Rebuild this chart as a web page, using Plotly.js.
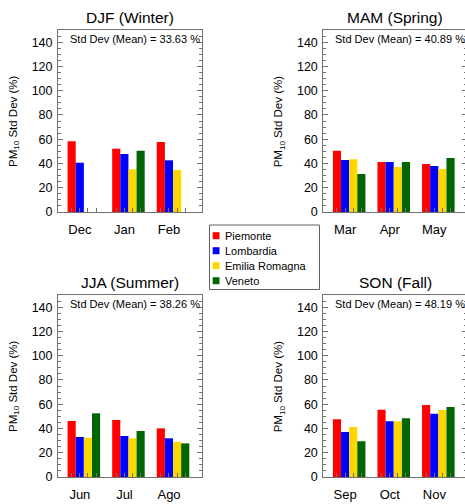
<!DOCTYPE html>
<html>
<head>
<meta charset="utf-8">
<script src="https://cdn.plot.ly/plotly-3.0.1.min.js"></script>
<style>
html, body { margin: 0; padding: 0; overflow: hidden; background: #fff; }
#chart { width: 468px; height: 504px; }
</style>
</head>
<body>
<div id="chart"></div>
<script>
// ---- data ----
const months = ['Dec', 'Jan', 'Feb', 'Mar', 'Apr', 'May', 'Jun', 'Jul', 'Ago', 'Sep', 'Oct', 'Nov'];
const seasons = ['DJF (Winter)', 'MAM (Spring)', 'JJA (Summer)', 'SON (Fall)'];
const stdDevMean = [33.63, 40.89, 38.26, 48.19];
const regions = ['Piemonte', 'Lombardia', 'Emilia Romagna', 'Veneto'];
const regionColors = ['#ff0000', '#0000ff', '#ffd700', '#006400'];
const piemonte = [58.3, 52.2, 57.7, 50.5, 41.2, 39.6, 46.2, 47.0, 40.1, 47.5, 55.5, 59.4];
const lombardia = [40.6, 47.8, 42.6, 42.9, 41.2, 37.9, 33.0, 33.8, 31.9, 37.1, 45.9, 52.2];
const emiliaRomagna = [null, 35.2, 34.6, 43.4, 37.1, 35.4, 32.4, 31.9, 28.9, 41.2, 45.9, 55.2];
const veneto = [null, 50.5, null, 31.3, 41.2, 44.5, 52.5, 37.9, 27.7, 29.4, 48.4, 57.7];
const seriesValues = [piemonte, lombardia, emiliaRomagna, veneto];

// ---- layout geometry ----
const W = 468, H = 504;
const colDomains = [[58 / W, 202 / W], [323.3 / W, 467.3 / W]];
const rowDomains = [[1 - 212 / H, 1 - 30 / H], [1 - 477 / H, 1 - 295 / H]];
const bargap = 0.27;
const barW = (1 - bargap) / regions.length;
const pos = [0, 1, 2];
const minorVals = [];
pos.forEach(c => { for (let k = 0; k < regions.length; k++) minorVals.push(c + (k - (regions.length - 1) / 2) * barW); });

const FONT = 'Liberation Sans, Arial, Helvetica, sans-serif';
const frame = '#707070';

const traces = [];
const layout = {
  width: W, height: H,
  margin: {l: 0, r: 0, t: 0, b: 0},
  paper_bgcolor: '#fff', plot_bgcolor: '#fff',
  barmode: 'group', bargap: bargap, bargroupgap: 0,
  showlegend: false,
  font: {family: FONT, color: '#000'},
  annotations: [], shapes: []
};

seasons.forEach((season, s) => {
  const idx = s === 0 ? '' : String(s + 1);
  const xa = 'x' + idx, ya = 'y' + idx;
  const col = s % 2, row = Math.floor(s / 2);
  const mLabels = months.slice(s * 3, s * 3 + 3);
  regions.forEach((r, k) => {
    traces.push({
      type: 'bar', name: r, x: pos, y: seriesValues[k].slice(s * 3, s * 3 + 3),
      xaxis: xa, yaxis: ya,
      marker: {color: regionColors[k], line: {width: 0}},
      hoverinfo: 'y+name'
    });
  });
  layout['xaxis' + idx] = {
    domain: colDomains[col], anchor: ya, range: [-0.58, 2.65],
    tickmode: 'array', tickvals: pos, ticktext: mLabels, ticks: '', 
    tickfont: {size: 13, family: FONT, color: '#000'},
    ticklabelshift: -4, ticklabelstandoff: 5,
    minor: {tickmode: 'array', tickvals: minorVals, ticks: 'inside', ticklen: 4, tickcolor: frame, tickwidth: 1},
    showline: true, linecolor: frame, linewidth: 1, mirror: true,
    showgrid: false, zeroline: false, fixedrange: true
  };
  layout['yaxis' + idx] = {
    domain: rowDomains[row], anchor: xa, range: [0, 150],
    tickmode: 'linear', tick0: 0, dtick: 20, ticks: 'inside', ticklen: 5, tickcolor: frame, tickwidth: 1,
    minor: {dtick: 5, ticks: 'inside', ticklen: 3, tickcolor: frame, showgrid: false},
    tickfont: {size: 12.5, family: FONT, color: '#000'},
    ticklabelstandoff: 2,
    showline: true, linecolor: frame, linewidth: 1, mirror: 'ticks',
    showgrid: false, zeroline: false, fixedrange: true
  };
  // panel title
  layout.annotations.push({
    xref: xa + ' domain', yref: ya + ' domain', x: 0.5, y: 1, yshift: 12.5,
    xanchor: 'center', yanchor: 'middle', showarrow: false,
    text: season, font: {size: 15.5, family: FONT, color: '#000'}
  });
  // std dev text
  layout.annotations.push({
    xref: xa + ' domain', yref: ya + ' domain', x: 0.068, y: 1, yshift: -8.7,
    xanchor: 'left', yanchor: 'middle', showarrow: false,
    text: 'Std Dev (Mean) = ' + stdDevMean[s].toFixed(2) + ' %', font: {size: 11, family: FONT, color: '#000'}
  });
  // y axis title
  layout.annotations.push({
    xref: xa + ' domain', yref: ya + ' domain', x: 0, y: 0.5, xshift: -44,
    xanchor: 'center', yanchor: 'middle', textangle: -90, showarrow: false,
    text: 'PM<sub>10</sub> Std Dev (%)', font: {size: 11.5, family: FONT, color: '#000'}
  });
});

// legend box (drawn in paper space)
const lgL = 209.5, lgR = 319.5, lgT = 225, lgB = 289.5;
layout.shapes.push({type: 'rect', xref: 'paper', yref: 'paper',
  x0: lgL / W, x1: lgR / W, y0: 1 - lgB / H, y1: 1 - lgT / H,
  line: {color: '#606060', width: 1}, fillcolor: 'rgba(0,0,0,0)'});
regions.forEach((r, k) => {
  const cy = 235.7 + 15 * k;
  layout.shapes.push({type: 'rect', xref: 'paper', yref: 'paper',
    x0: 212.7 / W, x1: 219.5 / W, y0: 1 - (cy + 3.5) / H, y1: 1 - (cy - 3.5) / H,
    line: {width: 0}, fillcolor: regionColors[k]});
  layout.annotations.push({xref: 'paper', yref: 'paper', x: 222.5 / W, y: 1 - cy / H,
    xanchor: 'left', yanchor: 'middle', showarrow: false, text: r,
    font: {size: 11, family: FONT, color: '#000'}});
});

Plotly.newPlot('chart', traces, layout, {staticPlot: true, displayModeBar: false});
</script>
</body>
</html>
